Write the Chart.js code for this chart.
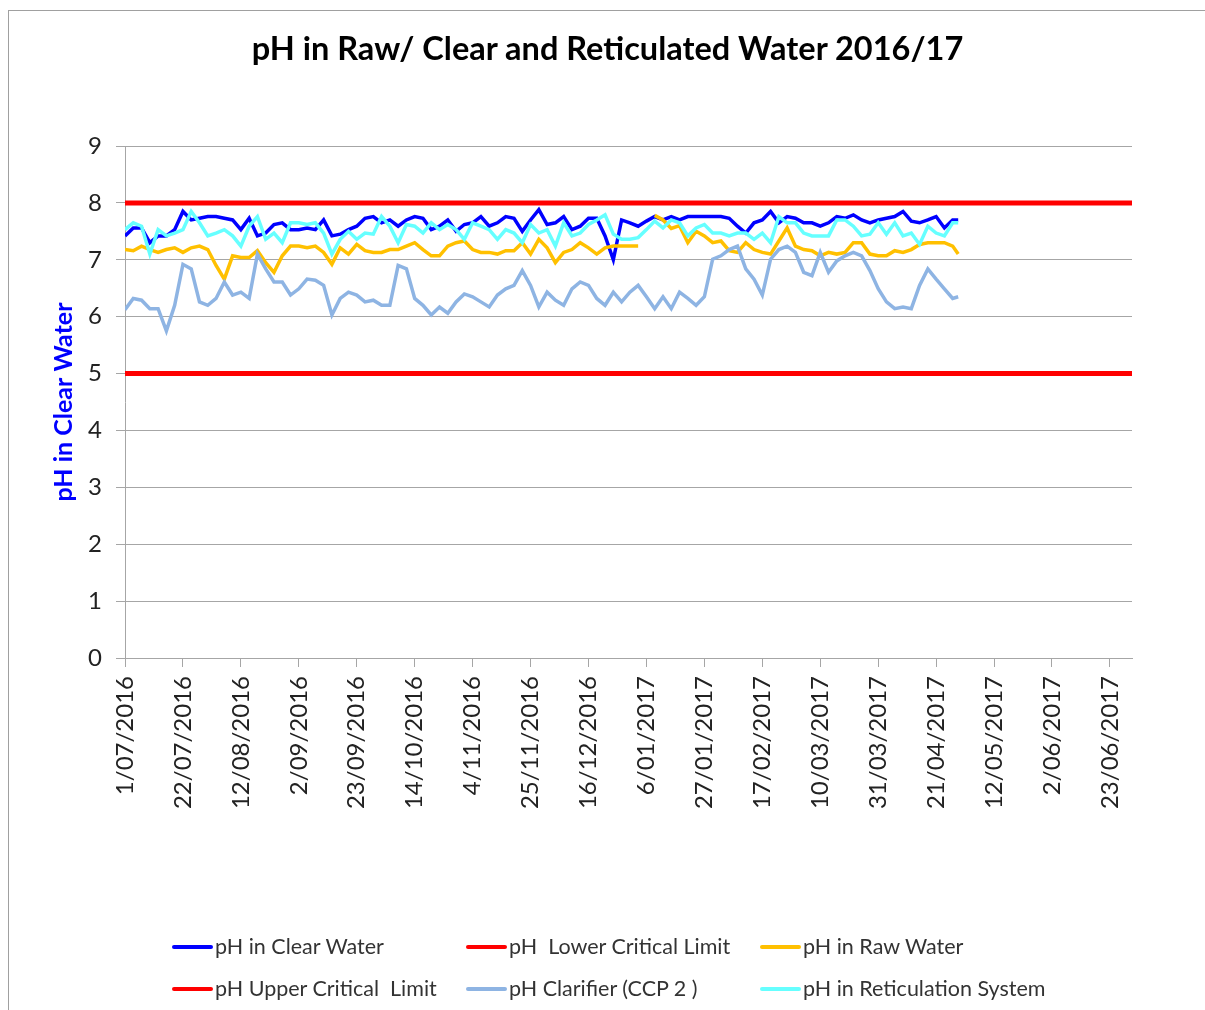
<!DOCTYPE html>
<html>
<head>
<meta charset="utf-8">
<script src="https://cdn.jsdelivr.net/npm/chart.js@4.4.1/dist/chart.umd.min.js"></script>
<style>
  html, body { margin: 0; padding: 0; background: #fff; overflow: hidden; }
  body { width: 1205px; height: 1010px; position: relative; font-family: Lato, "Noto Sans", sans-serif; }
  #frame { position: absolute; left: 8px; top: 10px; width: 1300px; height: 1100px; border: 1px solid #a0a0a0; }
  #chart { position: absolute; left: 0; top: 0; }
  #title { position: absolute; left: 0; top: 29px; width: 1215px; text-align: center; font-weight: bold; font-size: 32.5px; line-height: 38px; color: #000; }
  .leg { position: absolute; font-size: 21.5px; line-height: 26px; color: #333; white-space: pre; }
  .leg i { display: inline-block; width: 41px; height: 4px; border-radius: 2px; vertical-align: middle; margin-right: 2px; position: relative; top: -2px; }
</style>
</head>
<body>
<div id="frame"></div>
<canvas id="chart" width="1205" height="1010"></canvas>
<div id="title">pH in Raw/ Clear and Reticulated Water 2016/17</div>
<div id="legend"></div>
<script>
// days since 1/07/2016
const days = [
  0, 3, 6, 9, 12, 15, 18, 21, 24, 27,
  30, 33, 36, 39, 42, 45, 48, 51, 54, 57,
  60, 63, 66, 69, 72, 75, 78, 81, 84, 87,
  90, 93, 96, 99, 102, 105, 108, 111, 114, 117,
  120, 123, 126, 129, 132, 135, 138, 141, 144, 147,
  150, 153, 156, 159, 162, 165, 168, 171, 174, 177,
  180, 183, 186, 189, 192, 195, 198, 201, 204, 207,
  210, 213, 216, 219, 222, 225, 228, 231, 234, 237,
  240, 243, 246, 249, 252, 255, 258, 261, 264, 267,
  270, 273, 276, 279, 282, 285, 288, 291, 294, 297,
  300, 302
];

const clearWater = [
  7.42, 7.56, 7.56, 7.30, 7.42, 7.42, 7.53, 7.85, 7.70, 7.73,
  7.76, 7.76, 7.73, 7.70, 7.53, 7.73, 7.42, 7.47, 7.62, 7.65,
  7.53, 7.53, 7.56, 7.53, 7.70, 7.42, 7.45, 7.53, 7.59, 7.73,
  7.76, 7.65, 7.70, 7.59, 7.70, 7.76, 7.73, 7.53, 7.59, 7.70,
  7.50, 7.62, 7.65, 7.76, 7.59, 7.65, 7.76, 7.73, 7.50, 7.70,
  7.88, 7.62, 7.65, 7.76, 7.53, 7.59, 7.73, 7.73, 7.42, 7.00,
  7.70, 7.65, 7.59, 7.68, 7.76, 7.70, 7.76, 7.70, 7.76, 7.76,
  7.76, 7.76, 7.76, 7.73, 7.59, 7.47, 7.65, 7.70, 7.85, 7.65,
  7.76, 7.73, 7.65, 7.65, 7.59, 7.65, 7.76, 7.73, 7.79, 7.70,
  7.65, 7.70, 7.73, 7.76, 7.85, 7.68, 7.65, 7.70, 7.76, 7.56,
  7.70, 7.70
];

const rawWater = [
  7.18, 7.16, 7.24, 7.18, 7.13, 7.18, 7.21, 7.13, 7.21, 7.24,
  7.18, 6.90, 6.66, 7.07, 7.04, 7.04, 7.16, 6.95, 6.78, 7.07,
  7.24, 7.24, 7.21, 7.24, 7.13, 6.92, 7.21, 7.10, 7.27, 7.16,
  7.13, 7.13, 7.18, 7.18, 7.24, 7.30, 7.18, 7.07, 7.07, 7.24,
  7.30, 7.33, 7.18, 7.13, 7.13, 7.10, 7.16, 7.16, 7.30, 7.10,
  7.36, 7.21, 6.95, 7.13, 7.18, 7.30, 7.21, 7.10, 7.21, 7.24,
  7.24, 7.24, 7.24, null, 7.78, 7.70, 7.55, 7.60, 7.30, 7.50,
  7.42, 7.30, 7.33, 7.16, 7.13, 7.30, 7.18, 7.13, 7.10, 7.33,
  7.56, 7.24, 7.18, 7.16, 7.07, 7.13, 7.10, 7.13, 7.30, 7.30,
  7.10, 7.07, 7.07, 7.16, 7.13, 7.18, 7.27, 7.30, 7.30, 7.30,
  7.24, 7.10
];

const clarifier = [
  6.12, 6.32, 6.29, 6.14, 6.14, 5.75, 6.20, 6.92, 6.84, 6.26,
  6.20, 6.32, 6.61, 6.38, 6.43, 6.32, 7.10, 6.84, 6.61, 6.61,
  6.38, 6.49, 6.66, 6.64, 6.55, 6.03, 6.32, 6.43, 6.38, 6.26,
  6.29, 6.20, 6.20, 6.90, 6.84, 6.32, 6.20, 6.03, 6.17, 6.06,
  6.26, 6.40, 6.35, 6.26, 6.17, 6.38, 6.49, 6.55, 6.81, 6.55,
  6.17, 6.43, 6.29, 6.20, 6.49, 6.61, 6.55, 6.32, 6.20, 6.43,
  6.26, 6.43, 6.55, 6.35, 6.14, 6.35, 6.14, 6.43, 6.32, 6.20,
  6.35, 7.01, 7.07, 7.18, 7.24, 6.84, 6.66, 6.38, 7.01, 7.18,
  7.24, 7.13, 6.78, 6.72, 7.13, 6.78, 6.98, 7.07, 7.13, 7.07,
  6.81, 6.49, 6.26, 6.14, 6.17, 6.14, 6.55, 6.84, 6.66, 6.49,
  6.32, 6.35
];

const reticulation = [
  7.53, 7.65, 7.59, 7.10, 7.53, 7.42, 7.47, 7.53, 7.85, 7.65,
  7.42, 7.47, 7.53, 7.42, 7.24, 7.59, 7.76, 7.36, 7.47, 7.30,
  7.65, 7.65, 7.62, 7.65, 7.47, 7.10, 7.36, 7.50, 7.36, 7.47,
  7.45, 7.76, 7.59, 7.30, 7.62, 7.59, 7.47, 7.65, 7.53, 7.62,
  7.53, 7.36, 7.65, 7.59, 7.53, 7.36, 7.53, 7.47, 7.30, 7.62,
  7.47, 7.53, 7.24, 7.65, 7.42, 7.47, 7.62, 7.70, 7.79, 7.45,
  7.36, 7.36, 7.39, 7.53, 7.68, 7.56, 7.70, 7.65, 7.42, 7.56,
  7.62, 7.47, 7.47, 7.42, 7.47, 7.47, 7.36, 7.47, 7.30, 7.76,
  7.65, 7.65, 7.47, 7.42, 7.42, 7.42, 7.70, 7.70, 7.59, 7.42,
  7.45, 7.65, 7.45, 7.65, 7.42, 7.47, 7.27, 7.59, 7.47, 7.42,
  7.65, 7.65
];

const limitDays = [0, 365];
const upperLimit = [8, 8];
const lowerLimit = [5, 5];

const tickLabels = [
  '1/07/2016', '22/07/2016', '12/08/2016', '2/09/2016', '23/09/2016', '14/10/2016',
  '4/11/2016', '25/11/2016', '16/12/2016', '6/01/2017', '27/01/2017', '17/02/2017',
  '10/03/2017', '31/03/2017', '21/04/2017', '12/05/2017', '2/06/2017', '23/06/2017'
];

const toPoints = (xs, ys) => xs.map((x, i) => ({ x: x, y: ys[i] }));

const series = [
  { label: 'pH in Clear Water', xs: days, ys: clearWater, color: '#0000ff', width: 3.5, order: 6 },
  { label: 'pH  Lower Critical Limit', xs: limitDays, ys: lowerLimit, color: '#ff0000', width: 5, order: 5 },
  { label: 'pH in Raw Water', xs: days, ys: rawWater, color: '#ffc000', width: 3.5, order: 4 },
  { label: 'pH Upper Critical  Limit', xs: limitDays, ys: upperLimit, color: '#ff0000', width: 5, order: 3 },
  { label: 'pH Clarifier (CCP 2 )', xs: days, ys: clarifier, color: '#8eb4e3', width: 3.5, order: 2 },
  { label: 'pH in Reticulation System', xs: days, ys: reticulation, color: '#66ffff', width: 3.5, order: 1 }
];

const gridColor = '#a6a6a6';
const tickFont = { family: 'Lato', size: 24 };

new Chart(document.getElementById('chart'), {
  type: 'line',
  data: {
    datasets: series.map(s => ({
      label: s.label,
      data: toPoints(s.xs, s.ys),
      borderColor: s.color,
      backgroundColor: s.color,
      borderWidth: s.width,
      pointRadius: 0,
      tension: 0,
      spanGaps: false,
      order: s.order
    }))
  },
  options: {
    responsive: false,
    animation: false,
    layout: { padding: { top: 146, left: 0, right: 73, bottom: 202 } },
    plugins: {
      legend: { display: false },
      title: { display: false },
      tooltip: { enabled: false }
    },
    scales: {
      x: {
        type: 'linear',
        min: 0,
        max: 365,
        afterFit: scale => { scale.height = 150; },
        grid: { display: true, drawOnChartArea: false, tickLength: 9, color: gridColor },
        border: { color: gridColor },
        ticks: {
          stepSize: 21,
          includeBounds: false,
          autoSkip: false,
          minRotation: 90,
          maxRotation: 90,
          padding: 9,
          color: '#222',
          font: tickFont,
          callback: v => tickLabels[Math.round(v / 21)]
        }
      },
      y: {
        min: 0,
        max: 9,
        afterFit: scale => { scale.width = 125; },
        grid: { color: gridColor, tickLength: 9 },
        border: { color: gridColor },
        ticks: { stepSize: 1, padding: 14, color: '#222', font: tickFont },
        title: {
          display: true,
          text: 'pH in Clear Water',
          color: '#0000ff',
          font: { family: 'Lato', size: 25, weight: 'bold' },
          padding: { top: 49, bottom: 0 }
        }
      }
    }
  }
});

// legend laid out in three columns like the original
const legendPos = [[172, 933], [466, 933], [760, 933], [172, 975], [466, 975], [760, 975]];
const legendEl = document.getElementById('legend');
series.forEach((s, i) => {
  const d = document.createElement('div');
  d.className = 'leg';
  d.style.left = legendPos[i][0] + 'px';
  d.style.top = legendPos[i][1] + 'px';
  const sw = document.createElement('i');
  sw.style.background = s.color;
  d.appendChild(sw);
  d.appendChild(document.createTextNode(s.label));
  legendEl.appendChild(d);
});
</script>
</body>
</html>
